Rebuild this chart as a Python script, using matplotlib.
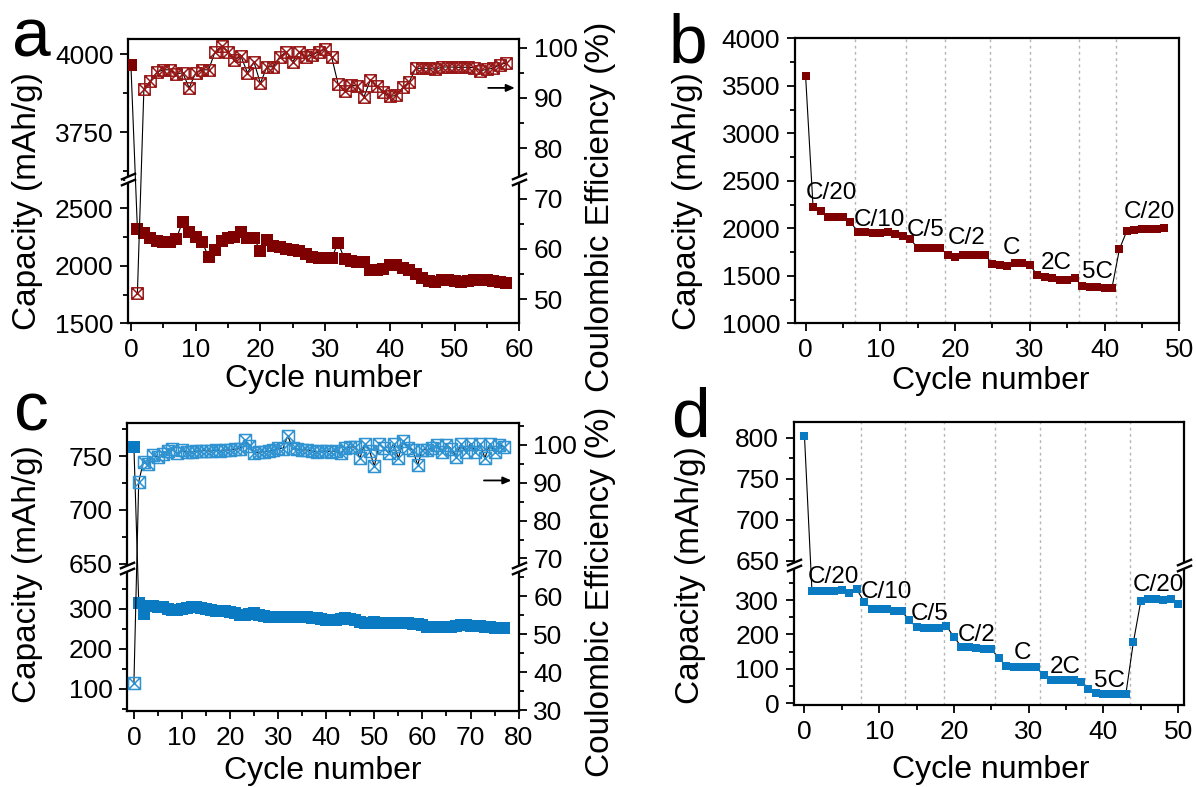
import numpy as np
import matplotlib
matplotlib.use("Agg")
import matplotlib.pyplot as plt
from matplotlib.path import Path
from matplotlib.ticker import FixedLocator, MultipleLocator
import matplotlib.transforms as mtransforms

plt.rcParams['font.family'] = ['Liberation Sans', 'DejaVu Sans']
plt.rcParams['axes.linewidth'] = 1.6

# ---------------- data ----------------
# panel a : long cycling (capacity + coulombic efficiency)
a_cycle_cap = list(range(0, 59))
a_capacity = [3964, 2320, 2285, 2245, 2215, 2205, 2210, 2235, 2385, 2290,
              2250, 2210, 2075, 2140, 2220, 2240, 2250, 2297, 2245, 2240,
              2130, 2225, 2170, 2160, 2150, 2140, 2125, 2100, 2075, 2065,
              2070, 2065, 2200, 2060, 2040, 2036, 2030, 1965, 1963, 1975,
              2005, 2007, 1985, 1960, 1930, 1890, 1865, 1862, 1877, 1877,
              1870, 1862, 1870, 1877, 1877, 1875, 1870, 1855, 1853]
a_cycle_ce = list(range(1, 59))
a_ce = [51.2, 91.7, 93.4, 95.1, 95.6, 95.6, 94.8, 95.0, 92.0, 95.0,
        95.6, 95.6, 99.2, 100.3, 99.2, 97.6, 98.3, 95.0, 97.2, 92.9,
        96.2, 96.2, 98.2, 99.2, 97.2, 99.2, 98.2, 98.5, 99.2, 99.7,
        98.2, 92.8, 91.3, 92.5, 92.4, 90.2, 93.6, 92.4, 91.2, 90.3,
        90.5, 92.1, 93.2, 95.9, 95.9, 95.9, 95.7, 96.1, 96.2, 96.1,
        96.1, 96.1, 96.0, 95.4, 95.7, 95.9, 96.6, 97.0]

# panel b : rate capability
b_cycle = list(range(0, 49))
b_capacity = [3603, 2221, 2182, 2122, 2122, 2116, 2070, 1958, 1958, 1947,
              1954, 1958, 1937, 1922, 1884, 1796, 1789, 1796, 1796, 1719,
              1701, 1719, 1719, 1719, 1719, 1624, 1614, 1607, 1632, 1632,
              1614, 1509, 1491, 1474, 1456, 1456, 1474, 1396, 1386, 1386,
              1368, 1375, 1782, 1975, 1982, 1989, 1989, 1993, 2000]
b_rate_bounds = [6.6, 13.5, 18.7, 24.7, 30.0, 36.6, 41.6]
rate_labels = ['C/20', 'C/10', 'C/5', 'C/2', 'C', '2C', '5C', 'C/20']
b_label_x = [3.5, 9.9, 16.0, 21.6, 27.6, 33.5, 39.0, 46.0]
b_label_y = [2368, 2088, 1982, 1895, 1789, 1632, 1544, 2175]

# panel c : long cycling (capacity + coulombic efficiency)
c_cycle = list(range(0, 78))
c_capacity = [759, 316, 288, 308, 307, 306, 305, 300, 298, 297,
              300, 303, 306, 305, 303, 300, 298, 296, 295, 294,
              292, 290, 285, 284, 288, 289, 286, 283, 281, 280,
              280, 280, 281, 281, 281, 281, 280, 278, 277, 275,
              273, 272, 273, 276, 277, 276, 272, 268, 266, 266,
              267, 265, 265, 266, 266, 264, 264, 264, 263, 262,
              259, 256, 256, 255, 255, 256, 256, 258, 259, 260,
              258, 257, 257, 256, 255, 253, 253, 252]
c_ce = [37.1, 90.3, 95.6, 95.0, 97.2, 96.8, 97.6, 98.4, 98.8, 97.8,
        98.6, 98.0, 98.2, 98.3, 98.4, 98.5, 98.3, 98.6, 98.5, 98.7,
        98.6, 98.8, 99.0, 101.3, 99.6, 97.8, 98.0, 98.2, 98.3, 98.6,
        99.1, 99.0, 102.4, 99.1, 98.8, 98.6, 98.7, 98.3, 98.2, 98.4,
        98.3, 98.2, 98.4, 97.8, 99.2, 99.5, 99.4, 96.5, 100.3, 98.5,
        94.3, 100.3, 99.1, 97.8, 100.3, 96.5, 100.9, 99.2, 98.7, 94.7,
        98.7, 98.7, 99.1, 100.0, 98.2, 100.0, 99.0, 96.9, 100.3, 98.2,
        100.3, 98.2, 100.3, 96.5, 100.3, 98.2, 100.0, 99.5]

# panel d : rate capability
d_cycle = list(range(0, 51))
d_capacity = [802, 327, 327, 327, 327, 330, 322, 331, 295, 274,
              274, 274, 268, 268, 242, 221, 218, 218, 219, 225,
              192, 165, 163, 160, 158, 158, 131, 109, 105, 105,
              105, 105, 82, 68, 67, 67, 68, 63, 41, 29,
              28, 28, 28, 27, 177, 297, 303, 303, 300, 303, 290]
d_rate_bounds = [7.5, 13.5, 18.7, 25.5, 31.5, 37.5, 43.5]
d_label_x = [3.9, 10.9, 16.8, 23.0, 29.2, 34.9, 40.8, 47.4]
d_label_y = [368, 324, 260, 199, 145, 106, 66, 344]

# ---------------- styles ----------------
RED = '#7f0000'
RED_CE = '#981818'
BLUE = '#0a7bc2'
BLUE_CE = '#2f93d2'
TICK_FS = 19
XLABEL_FS = 23
YLABEL_FS = 24
RATE_FS = 17.5
LETTER_FS = 50

box_x = Path([(-1, -1), (1, -1), (1, 1), (-1, 1), (-1, -1),
              (-1, -1), (1, 1), (-1, 1), (1, -1)],
             [Path.MOVETO, Path.LINETO, Path.LINETO, Path.LINETO, Path.CLOSEPOLY,
              Path.MOVETO, Path.LINETO, Path.MOVETO, Path.LINETO])

fig = plt.figure(figsize=(11.96, 7.87), dpi=100)


def broken_scale(ax, lo, hi, frac):
    a0, a1 = lo
    b0, b1 = hi

    def fwd(y):
        y = np.asarray(y, dtype=float)
        low = (y - a0) / (a1 - a0) * frac
        up = frac + (y - b0) / (b1 - b0) * (1 - frac)
        return np.where(y <= a1, low, np.where(y >= b0, up, frac))

    def inv(v):
        v = np.asarray(v, dtype=float)
        return np.where(v <= frac, a0 + v / frac * (a1 - a0),
                        b0 + (v - frac) / (1 - frac) * (b1 - b0))

    ax.set_yscale('function', functions=(fwd, inv))
    ax.set_ylim(a0, b1)


def style(ax):
    ax.tick_params(which='both', direction='out', labelsize=TICK_FS, width=1.3, pad=4.5)
    ax.tick_params(which='major', length=6)
    ax.tick_params(which='minor', length=3.5)


def draw_break(ax, xa, ya):
    t = ax.transAxes
    ax.plot([xa], [ya], transform=t, marker=[(0, -1), (0, 1)], ms=4.5, mew=4,
            color='white', clip_on=False, zorder=20)
    for dy in (-2.3, 2.3):
        tr = t + mtransforms.ScaledTranslation(0, dy / 72, fig.dpi_scale_trans)
        ax.plot([xa], [ya], transform=tr, marker=[(-1, -0.42), (1, 0.42)], ms=11,
                mew=1.7, color='black', clip_on=False, zorder=21)


# ---------------- panel a ----------------
axa = fig.add_axes([0.1072, 0.5892, 0.3270, 0.3609])
broken_scale(axa, (1500, 2755), (3600, 4048), 0.508)
axa.set_xlim(-0.42, 60)
axa.plot(a_cycle_cap, a_capacity, color='black', lw=0.8, zorder=2)
axa.plot(a_cycle_cap, a_capacity, ls='none', marker='s', ms=8.0, mew=0, color=RED, zorder=3)
axa.yaxis.set_major_locator(FixedLocator([1500, 2000, 2500, 3750, 4000]))
axa.yaxis.set_minor_locator(FixedLocator([1750, 2250, 2750, 3625, 3875]))
axa.xaxis.set_major_locator(MultipleLocator(10))
axa.xaxis.set_minor_locator(MultipleLocator(5))
axa.spines['right'].set_visible(False)
style(axa)
axa.set_ylabel('Capacity (mAh/g)', fontsize=YLABEL_FS)
axa.yaxis.set_label_coords(-0.218, 0.43)
axa.set_xlabel('Cycle number', fontsize=XLABEL_FS)
axa.xaxis.set_label_coords(0.5, -0.145)

axa2 = axa.twinx()
axa2.set_ylim(45.2, 101.67)
axa2.plot(a_cycle_ce, a_ce, color='black', lw=0.8, zorder=2)
axa2.plot(a_cycle_ce, a_ce, ls='none', marker=box_x, ms=8.2, mew=1.1,
          mfc='none', mec=RED_CE, zorder=3)
axa2.yaxis.set_major_locator(FixedLocator([50, 60, 70, 80, 90, 100]))
axa2.yaxis.set_minor_locator(FixedLocator([45, 55, 65, 85, 95]))
for s in ('left', 'top', 'bottom'):
    axa2.spines[s].set_visible(False)
style(axa2)
axa2.set_ylabel('Coulombic Efficiency (%)', fontsize=YLABEL_FS)
axa2.yaxis.set_label_coords(1.168, 0.41)
axa2.annotate('', xy=(59.3, 92), xytext=(55.2, 92),
              arrowprops=dict(arrowstyle='-|>,head_length=0.5,head_width=0.22',
                              color='black', lw=1.3, shrinkA=0, shrinkB=0))
draw_break(axa2, 0, 0.508)
draw_break(axa2, 1, 0.508)

# ---------------- panel b ----------------
axb = fig.add_axes([0.6644, 0.5892, 0.3216, 0.3621])
axb.set_xlim(-1.47, 50)
axb.set_ylim(1000, 4000)
for xb in b_rate_bounds:
    axb.axvline(xb, color='#b5b5b5', ls=(0, (2, 2.5)), lw=1.0, zorder=0)
axb.plot(b_cycle, b_capacity, color='black', lw=0.8, zorder=2)
axb.plot(b_cycle, b_capacity, ls='none', marker='s', ms=5.4, mew=0, color=RED, zorder=3)
for lab, lx, ly in zip(rate_labels, b_label_x, b_label_y):
    axb.text(lx, ly, lab, fontsize=RATE_FS, ha='center', va='center', zorder=4)
axb.yaxis.set_major_locator(MultipleLocator(500))
axb.yaxis.set_minor_locator(MultipleLocator(250))
axb.xaxis.set_major_locator(MultipleLocator(10))
axb.xaxis.set_minor_locator(MultipleLocator(5))
style(axb)
axb.set_ylabel('Capacity (mAh/g)', fontsize=YLABEL_FS)
axb.yaxis.set_label_coords(-0.237, 0.43)
axb.set_xlabel('Cycle number', fontsize=XLABEL_FS)
axb.xaxis.set_label_coords(0.509, -0.15)

# ---------------- panel c ----------------
axc = fig.add_axes([0.1065, 0.0966, 0.3271, 0.3656])
broken_scale(axc, (45, 402.5), (646, 780.8), 0.497)
axc.set_xlim(-1.36, 80)
axc.plot(c_cycle, c_capacity, color='black', lw=0.8, zorder=2)
axc.plot(c_cycle, c_capacity, ls='none', marker='s', ms=9.0, mew=0, color=BLUE, zorder=3)
axc.yaxis.set_major_locator(FixedLocator([100, 200, 300, 650, 700, 750]))
axc.yaxis.set_minor_locator(FixedLocator([50, 150, 250, 350, 675, 725, 775]))
axc.xaxis.set_major_locator(MultipleLocator(10))
axc.xaxis.set_minor_locator(MultipleLocator(5))
axc.spines['right'].set_visible(False)
style(axc)
axc.set_ylabel('Capacity (mAh/g)', fontsize=YLABEL_FS)
axc.yaxis.set_label_coords(-0.216, 0.476)
axc.set_xlabel('Cycle number', fontsize=XLABEL_FS)
axc.xaxis.set_label_coords(0.5, -0.155)

axc2 = axc.twinx()
axc2.set_ylim(29.75, 105.7)
axc2.plot(c_cycle, c_ce, color='black', lw=0.8, zorder=2)
axc2.plot(c_cycle, c_ce, ls='none', marker=box_x, ms=8.6, mew=1.1,
          mfc='none', mec=BLUE_CE, zorder=3)
axc2.yaxis.set_major_locator(FixedLocator([30, 40, 50, 60, 70, 80, 90, 100]))
axc2.yaxis.set_minor_locator(FixedLocator([35, 45, 55, 65, 75, 85, 95, 105]))
for s in ('left', 'top', 'bottom'):
    axc2.spines[s].set_visible(False)
style(axc2)
axc2.set_ylabel('Coulombic Efficiency (%)', fontsize=YLABEL_FS)
axc2.yaxis.set_label_coords(1.171, 0.414)
axc2.annotate('', xy=(78.5, 90.6), xytext=(72.8, 90.6),
              arrowprops=dict(arrowstyle='-|>,head_length=0.5,head_width=0.22',
                              color='black', lw=1.3, shrinkA=0, shrinkB=0))
draw_break(axc2, 0, 0.497)
draw_break(axc2, 1, 0.497)

# ---------------- panel d ----------------
axd = fig.add_axes([0.6637, 0.1042, 0.3264, 0.3600])
broken_scale(axd, (-5, 402), (644.8, 819.5), 0.494)
axd.set_xlim(-1.43, 50.8)
for xb in d_rate_bounds:
    axd.axvline(xb, color='#b5b5b5', ls=(0, (2, 2.5)), lw=1.0, zorder=0)
axd.plot(d_cycle, d_capacity, color='black', lw=0.8, zorder=2)
axd.plot(d_cycle, d_capacity, ls='none', marker='s', ms=5.4, mew=0, color=BLUE, zorder=3)
for lab, lx, ly in zip(rate_labels, d_label_x, d_label_y):
    axd.text(lx, ly, lab, fontsize=RATE_FS, ha='center', va='center', zorder=4)
axd.yaxis.set_major_locator(FixedLocator([0, 100, 200, 300, 650, 700, 750, 800]))
axd.yaxis.set_minor_locator(FixedLocator([50, 150, 250, 350, 675, 725, 775]))
axd.xaxis.set_major_locator(MultipleLocator(10))
axd.xaxis.set_minor_locator(MultipleLocator(5))
style(axd)
axd.set_ylabel('Capacity (mAh/g)', fontsize=YLABEL_FS)
axd.yaxis.set_label_coords(-0.226, 0.459)
axd.set_xlabel('Cycle number', fontsize=XLABEL_FS)
axd.xaxis.set_label_coords(0.504, -0.178)
draw_break(axd, 0, 0.494)
draw_break(axd, 1, 0.494)

# ---------------- panel letters ----------------
fig.text(0.0259, 0.928, 'a', fontsize=LETTER_FS, ha='center', va='baseline')
fig.text(0.575, 0.920, 'b', fontsize=LETTER_FS, ha='center', va='baseline')
fig.text(0.0263, 0.4536, 'c', fontsize=LETTER_FS, ha='center', va='baseline')
fig.text(0.577, 0.4451, 'd', fontsize=LETTER_FS, ha='center', va='baseline')

fig.savefig('out.png', dpi=100)
